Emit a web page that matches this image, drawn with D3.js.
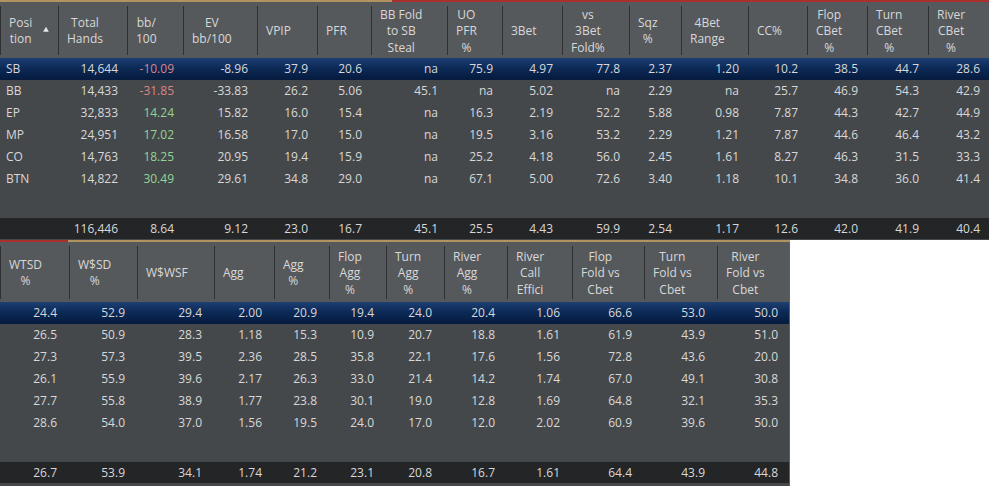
<!DOCTYPE html>
<html>
<head>
<meta charset="utf-8">
<script src="https://cdn.jsdelivr.net/npm/d3@7"></script>
<style>
    body { margin: 0; background: #ffffff; }
    text { font-family: "Open Sans", "Noto Sans", sans-serif; font-size: 12px; fill: #d8d8d8; }
</style>
</head>
<body>
<script>

// datos por posicion
var positions = ["SB", "BB", "EP", "MP", "CO", "BTN"];

var totalHands   = [14644, 14433, 32833, 24951, 14763, 14822];
var bb100        = [-10.09, -31.85, 14.24, 17.02, 18.25, 30.49];
var evBb100      = [-8.96, -33.83, 15.82, 16.58, 20.95, 29.61];
var vpip         = [37.9, 26.2, 16.0, 17.0, 19.4, 34.8];
var pfr          = [20.6, 5.06, 15.4, 15.0, 15.9, 29.0];
var bbFoldSteal  = [null, 45.1, null, null, null, null];
var uoPfr        = [75.9, null, 16.3, 19.5, 25.2, 67.1];
var threeBet     = [4.97, 5.02, 2.19, 3.16, 4.18, 5.00];
var vs3BetFold   = [77.8, null, 52.2, 53.2, 56.0, 72.6];
var sqz          = [2.37, 2.29, 5.88, 2.29, 2.45, 3.40];
var fourBetRange = [1.20, null, 0.98, 1.21, 1.61, 1.18];
var ccPct        = [10.2, 25.7, 7.87, 7.87, 8.27, 10.1];
var flopCbet     = [38.5, 46.9, 44.3, 44.6, 46.3, 34.8];
var turnCbet     = [44.7, 54.3, 42.7, 46.4, 31.5, 36.0];
var riverCbet    = [28.6, 42.9, 44.9, 43.2, 33.3, 41.4];

var topTotals = [null, 116446, 8.64, 9.12, 23.0, 16.7, 45.1, 25.5, 4.43, 59.9, 2.54, 1.17, 12.6, 42.0, 41.9, 40.4];

var wtsd         = [24.4, 26.5, 27.3, 26.1, 27.7, 28.6];
var wssd         = [52.9, 50.9, 57.3, 55.9, 55.8, 54.0];
var wswsf        = [29.4, 28.3, 39.5, 39.6, 38.9, 37.0];
var agg          = [2.00, 1.18, 2.36, 2.17, 1.77, 1.56];
var aggPct       = [20.9, 15.3, 28.5, 26.3, 23.8, 19.5];
var flopAgg      = [19.4, 10.9, 35.8, 33.0, 30.1, 24.0];
var turnAgg      = [24.0, 20.7, 22.1, 21.4, 19.0, 17.0];
var riverAgg     = [20.4, 18.8, 17.6, 14.2, 12.8, 12.0];
var riverCallEff = [1.06, 1.61, 1.56, 1.74, 1.69, 2.02];
var flopFoldCbet = [66.6, 61.9, 72.8, 67.0, 64.8, 60.9];
var turnFoldCbet = [53.0, 43.9, 43.6, 49.1, 32.1, 39.6];
var riverFoldCbet= [50.0, 51.0, 20.0, 30.8, 35.3, 50.0];

var bottomTotals = [26.7, 53.9, 34.1, 1.74, 21.2, 23.1, 20.8, 16.7, 1.61, 64.4, 43.9, 44.8];

var topHeaders = [["Posi","tion"],["Total","Hands"],["bb/","100"],["EV","bb/100"],["VPIP"],["PFR"],
    ["BB Fold","to SB","Steal"],["UO","PFR","%"],["3Bet"],["vs","3Bet","Fold%"],["Sqz","%"],["4Bet","Range"],
    ["CC%"],["Flop","CBet","%"],["Turn","CBet","%"],["River","CBet","%"]];

var bottomHeaders = [["WTSD","%"],["W$SD","%"],["W$WSF"],["Agg"],["Agg","%"],["Flop","Agg","%"],
    ["Turn","Agg","%"],["River","Agg","%"],["River","Call","Effici"],["Flop","Fold vs","Cbet"],
    ["Turn","Fold vs","Cbet"],["River","Fold vs","Cbet"]];

// formatos
var fmtHands = d3.format(",");
function fmt2(d){ return d.toFixed(2); }
function fmt3(d){ return Math.abs(d) < 10 ? d.toFixed(2) : d.toFixed(1); }
function colorBb(d){ return d < 0 ? "#dc8486" : "#93d493"; }

var topColumns = [
    {values: positions, fmt: String, align: "left"},
    {values: totalHands, fmt: fmtHands},
    {values: bb100, fmt: fmt2, color: colorBb},
    {values: evBb100, fmt: fmt2},
    {values: vpip, fmt: fmt3},
    {values: pfr, fmt: fmt3},
    {values: bbFoldSteal, fmt: fmt3},
    {values: uoPfr, fmt: fmt3},
    {values: threeBet, fmt: fmt3},
    {values: vs3BetFold, fmt: fmt3},
    {values: sqz, fmt: fmt3},
    {values: fourBetRange, fmt: fmt3},
    {values: ccPct, fmt: fmt3},
    {values: flopCbet, fmt: fmt3},
    {values: turnCbet, fmt: fmt3},
    {values: riverCbet, fmt: fmt3}
];
topColumns.forEach(function(c, i){ c.header = topHeaders[i]; c.total = topTotals[i]; });
topColumns[1].totalFmt = fmtHands;
topColumns[2].totalFmt = fmt2;
topColumns[3].totalFmt = fmt2;

var bottomColumns = [wtsd, wssd, wswsf, agg, aggPct, flopAgg, turnAgg, riverAgg,
    riverCallEff, flopFoldCbet, turnFoldCbet, riverFoldCbet].map(function(v, i){
        return {values: v, fmt: fmt3, header: bottomHeaders[i], total: bottomTotals[i]};
    });

// layout
var topWidths = [58, 69, 56, 74, 60, 54, 76, 55, 60, 67, 52, 67, 59, 60, 61, 61];
var bottomWidths = [69, 68, 77, 60, 55, 57, 58, 63, 65, 72, 73, 73];
var rowHeight = 22;

var svg = d3.select("body").append("svg")
    .attr("width", 989)
    .attr("height", 486);

var defs = svg.append("defs");
var grad = defs.append("linearGradient")
    .attr("id", "selGrad")
    .attr("x1", 0).attr("y1", 0).attr("x2", 0).attr("y2", 1);
grad.append("stop").attr("offset", "0%").attr("stop-color", "#1d3f72");
grad.append("stop").attr("offset", "45%").attr("stop-color", "#0c2a57");
grad.append("stop").attr("offset", "100%").attr("stop-color", "#061a3d");

function dibujarTabla(cfg){

    var g = svg.append("g").attr("transform", "translate(0," + cfg.top + ")");
    var edges = [0];
    cfg.widths.forEach(function(w){ edges.push(edges[edges.length - 1] + w); });
    var tableWidth = edges[edges.length - 1];

    var x = d3.scaleBand().domain(d3.range(cfg.columns.length)).range([0, tableWidth]);
    var colX = function(i){ return edges[i]; };
    var colW = function(i){ return cfg.widths[i]; };

    var headerH = cfg.headerH;
    var rowsTop = headerH;
    var y = d3.scaleBand()
        .domain(positions)
        .range([rowsTop, rowsTop + positions.length * rowHeight]);
    var totalTop = rowsTop + positions.length * rowHeight + 28;

    // fondo cuerpo
    g.append("rect")
        .attr("x", 0).attr("y", 0)
        .attr("width", tableWidth).attr("height", cfg.height)
        .attr("fill", "#45484b");

    // cabecera
    g.append("rect")
        .attr("x", 0).attr("y", 0)
        .attr("width", tableWidth).attr("height", headerH)
        .attr("fill", "#56595c");

    // borde superior
    cfg.topLine.forEach(function(s){
        g.append("rect")
            .attr("x", s[0]).attr("y", -2)
            .attr("width", s[1] - s[0]).attr("height", 2)
            .attr("fill", s[2]);
    });

    // separadores de cabecera
    g.selectAll("line.sep")
        .data(edges.slice(0, edges.length - 1))
        .enter().append("line")
        .attr("class", "sep")
        .attr("x1", function(d){ return d + 0.5; })
        .attr("x2", function(d){ return d + 0.5; })
        .attr("y1", 4)
        .attr("y2", headerH - 3)
        .attr("stroke", "#2d2f32")
        .attr("stroke-width", 1);

    // textos de cabecera
    cfg.columns.forEach(function(c, i){
        var n = c.header.length;
        var lh = 16.5;
        var txt = g.append("text");
        var spans = [];
        c.header.forEach(function(line, k){
            spans.push(txt.append("tspan")
                .attr("y", cfg.headerMid + (k - (n - 1) / 2) * lh)
                .attr("dy", "0.35em")
                .attr("text-anchor", "middle")
                .text(line));
        });
        var maxW = 0;
        spans.forEach(function(s){ maxW = Math.max(maxW, s.node().getComputedTextLength()); });
        var cx = colX(i) + 9 + maxW / 2;
        spans.forEach(function(s){ s.attr("x", cx); });
    });

    if(cfg.sortArrow){
        g.append("path")
            .attr("d", d3.symbol().type(d3.symbolTriangle).size(14)())
            .attr("transform", "translate(46," + (cfg.headerMid - 1) + ")")
            .attr("fill", "#e6e6e6");
    }

    // fila seleccionada
    g.append("rect")
        .attr("x", 0).attr("y", y(positions[0]))
        .attr("width", tableWidth).attr("height", y.bandwidth())
        .attr("fill", "url(#selGrad)");

    // fila total
    g.append("rect")
        .attr("x", 0).attr("y", totalTop)
        .attr("width", tableWidth).attr("height", rowHeight - 1)
        .attr("fill", "#232527");

    // datos
    cfg.columns.forEach(function(c, i){
        var left = c.align === "left";
        g.selectAll("text.c" + i)
            .data(c.values)
            .enter().append("text")
            .attr("class", "c" + i)
            .attr("x", left ? colX(i) + 6 : colX(i) + colW(i) - cfg.pad)
            .attr("y", function(d, j){ return y(positions[j]) + y.bandwidth() / 2; })
            .attr("dy", "0.35em")
            .attr("text-anchor", left ? "start" : "end")
            .style("fill", function(d){ return (c.color && d != null) ? c.color(d) : null; })
            .text(function(d){ return d == null ? "na" : c.fmt(d); });

        if(c.total != null){
            var f = c.totalFmt || c.fmt;
            g.append("text")
                .attr("x", colX(i) + colW(i) - cfg.pad)
                .attr("y", totalTop + (rowHeight - 1) / 2)
                .attr("dy", "0.35em")
                .attr("text-anchor", "end")
                .text(f(c.total));
        }
    });

    return g;
}

dibujarTabla({
    top: 2,
    height: 238,
    headerH: 56,
    headerMid: 29,
    widths: topWidths,
    columns: topColumns,
    pad: 9,
    sortArrow: true,
    topLine: [[0, 392, "#b2925f"], [392, 989, "#a8302e"]]
});

var gBottom = dibujarTabla({
    top: 242,
    height: 244,
    headerH: 60,
    headerMid: 31,
    widths: bottomWidths,
    columns: bottomColumns,
    pad: 12,
    sortArrow: false,
    topLine: [[0, 68, "#a8302e"], [68, 790, "#b2925f"]]
});

// borde derecho tabla inferior
gBottom.append("line")
    .attr("x1", 789.5).attr("x2", 789.5)
    .attr("y1", 0).attr("y2", 244)
    .attr("stroke", "#5c5f62");

</script>
</body>
</html>
